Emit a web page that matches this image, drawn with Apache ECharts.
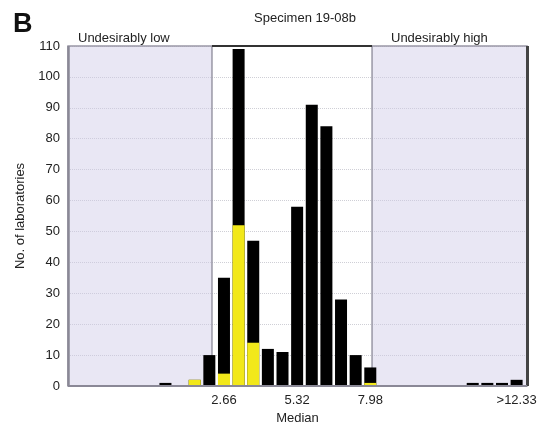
<!DOCTYPE html>
<html>
<head>
<meta charset="utf-8">
<script src="https://cdn.jsdelivr.net/npm/echarts@6/dist/echarts.min.js"></script>
<style>html,body{margin:0;padding:0;background:#fff}#c{width:546px;height:427px}</style>
</head>
<body>
<div id="c"></div>
<script>
// bin index (bin width 0.532 units); index 5 = 2.66, 10 = 5.32, 15 = 7.98, 25 = >12.33
var binIndex = [1, 2, 3, 4, 5, 6, 7, 8, 9, 10, 11, 12, 13, 14, 15, 22, 23, 24, 25];
var totalLabs = [1, 0, 2, 10, 35, 109, 47, 12, 11, 58, 91, 84, 28, 10, 6, 1, 1, 1, 2];
var yellowLabs = [0, 0, 2, 0, 4, 52, 14, 0, 0, 0, 0, 0, 0, 0, 1, 0, 0, 0, 0];
var tickIndex = [5, 10, 15, 25];
var tickLabels = ['2.66', '5.32', '7.98', '>12.33'];
var lowLimit = 4.18, highLimit = 15.12, xMin = -5.66, xMax = 25.71;

var totalData = binIndex.map(function (b, i) { return [b, totalLabs[i]]; });
var yellowData = binIndex.map(function (b, i) { return [b, yellowLabs[i]]; });

var chart = echarts.init(document.getElementById('c'), null, {renderer: 'canvas'});
var font = 'Liberation Sans, Arial, sans-serif';
chart.setOption({
  animation: false,
  title: [
    {text: 'B', left: 8, top: 6, textStyle: {fontSize: 27, fontWeight: 'bold', color: '#111', fontFamily: font}},
    {text: 'Specimen 19-08b', left: 300, top: 7, textAlign: 'center', textStyle: {fontSize: 13, fontWeight: 'normal', color: '#222', fontFamily: font}},
    {text: 'Undesirably low', left: 73, top: 27, textStyle: {fontSize: 13, fontWeight: 'normal', color: '#222', fontFamily: font}},
    {text: 'Undesirably high', left: 386, top: 27, textStyle: {fontSize: 13, fontWeight: 'normal', color: '#222', fontFamily: font}}
  ],
  grid: {left: 68, right: 19, top: 46, bottom: 41, containLabel: false, outerBoundsMode: 'none'},
  xAxis: {
    type: 'value', min: xMin, max: xMax,
    name: 'Median', nameLocation: 'middle', nameGap: 25,
    nameTextStyle: {fontSize: 13, color: '#222', fontFamily: font},
    axisLine: {show: false},
    axisTick: {show: false},
    splitLine: {show: false},
    axisLabel: {
      customValues: tickIndex,
      formatter: function (v) { var k = tickIndex.indexOf(v); return k >= 0 ? tickLabels[k] : ''; },
      fontSize: 13, color: '#222', fontFamily: font, margin: 8
    }
  },
  yAxis: {
    type: 'value', min: 0, max: 110, interval: 10,
    name: 'No. of laboratories', nameLocation: 'middle', nameGap: 41,
    nameTextStyle: {fontSize: 13, color: '#222', fontFamily: font},
    axisLine: {show: false},
    axisTick: {show: false},
    axisLabel: {fontSize: 13, color: '#222', fontFamily: font, margin: 8},
    splitLine: {show: true, lineStyle: {color: '#cfcfd6', type: 'dotted', width: 1}}
  },
  series: [
    {
      type: 'line', data: [], z: 1, silent: true,
      markArea: {
        silent: true,
        itemStyle: {color: 'rgba(206,202,230,0.45)', borderColor: '#9a98a6', borderWidth: 1.5},
        data: [
          [{xAxis: xMin, yAxis: 0}, {xAxis: lowLimit, yAxis: 110}],
          [{xAxis: highLimit, yAxis: 0}, {xAxis: xMax, yAxis: 110}]
        ]
      }
    },
    {
      type: 'line', data: [], z: 5, silent: true,
      markLine: {
        silent: true, symbol: 'none', label: {show: false},
        data: [
          [{coord: [lowLimit, 110], lineStyle: {color: '#333', width: 2, type: 'solid'}}, {coord: [highLimit, 110]}],
          [{coord: [xMax, 0], lineStyle: {color: '#444', width: 3, type: 'solid'}}, {coord: [xMax, 110]}],
          [{coord: [xMin, 0], lineStyle: {color: '#8a8896', width: 2.5, type: 'solid'}}, {coord: [xMin, 110]}],
          [{coord: [xMin, 0], lineStyle: {color: '#8a8896', width: 2, type: 'solid'}}, {coord: [xMax, 0]}]
        ]
      }
    },
    {
      name: 'total', type: 'bar', data: totalData, barWidth: 12, z: 3,
      itemStyle: {color: '#000'}
    },
    {
      name: 'yellow', type: 'bar', data: yellowData, barWidth: 12, barGap: '-100%', z: 4,
      itemStyle: {color: '#f2e81a'}
    }
  ]
});
</script>
</body>
</html>
